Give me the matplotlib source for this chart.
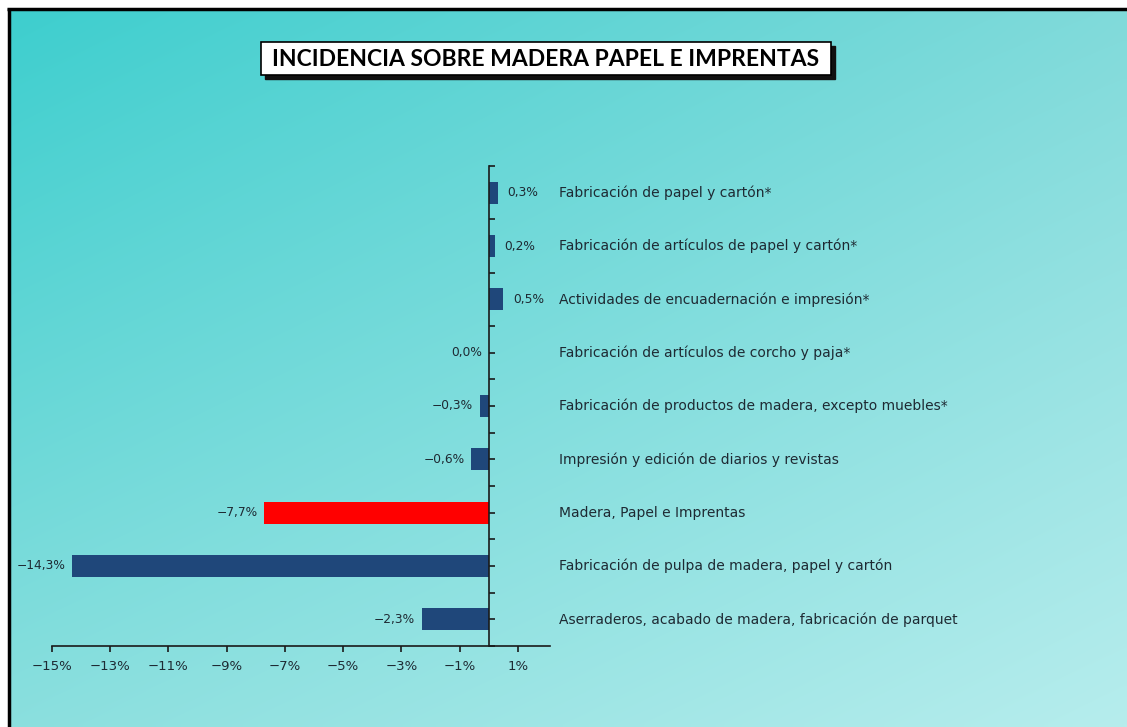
import numpy as np
import matplotlib
matplotlib.use("Agg")
import matplotlib.pyplot as plt
from matplotlib.patches import Rectangle

# data (top to bottom as in the chart)
categories = [
    "Fabricación de papel y cartón*",
    "Fabricación de artículos de papel y cartón*",
    "Actividades de encuadernación e impresión*",
    "Fabricación de artículos de corcho y paja*",
    "Fabricación de productos de madera, excepto muebles*",
    "Impresión y edición de diarios y revistas",
    "Madera, Papel e Imprentas",
    "Fabricación de pulpa de madera, papel y cartón",
    "Aserraderos, acabado de madera, fabricación de parquet",
]
values = [0.3, 0.2, 0.5, 0.0, -0.3, -0.6, -7.7, -14.3, -2.3]
highlight = "Madera, Papel e Imprentas"
xticks = [-15, -13, -11, -9, -7, -5, -3, -1, 1]
title = "INCIDENCIA SOBRE MADERA PAPEL E IMPRENTAS"

W, H = 1127, 727
fig = plt.figure(figsize=(W / 100, H / 100), dpi=100)

# gradient background
bg = fig.add_axes([0, 0, 1, 1], zorder=0)
tl = np.array([60, 206, 206]) / 255
tr = np.array([128, 218, 218]) / 255
bl = np.array([138, 223, 222]) / 255
br = np.array([182, 237, 237]) / 255
u = np.linspace(0, 1, 200)[None, :, None]
v = np.linspace(0, 1, 130)[:, None, None]
img = (1 - v) * ((1 - u) * tl + u * tr) + v * ((1 - u) * bl + u * br)
bg.imshow(img, aspect="auto", extent=[0, W, H, 0], interpolation="bilinear")
bg.set_xlim(0, W)
bg.set_ylim(H, 0)
bg.axis("off")
# white margin outside the frame + black frame lines (top and left)
bg.add_patch(Rectangle((0, 0), W, 8, color="white", zorder=2))
bg.add_patch(Rectangle((0, 0), 7, H, color="white", zorder=2))
bg.plot([7, W], [9, 9], color="black", lw=2.5, zorder=3, solid_capstyle="butt")
bg.plot([8.5, 8.5], [8, H], color="black", lw=2.5, zorder=3, solid_capstyle="butt")

# title box with shadow
bg.add_patch(Rectangle((265, 46), 570, 33, color="#111111", zorder=3))
bg.add_patch(Rectangle((261, 42), 570, 33, facecolor="white", edgecolor="black", lw=1.2, zorder=4))
bg.text(546, 59, title, ha="center", va="center", fontsize=16.5, fontweight="bold",
        family="Lato", color="black", zorder=5)

# main chart
x0, x1 = 51.7, 550
y_top, y_bot = 166, 646
ax = fig.add_axes([x0 / W, (H - y_bot) / H, (x1 - x0) / W, (y_bot - y_top) / H], zorder=1)
ax.patch.set_visible(False)

n = len(categories)
pos = np.arange(n)
colors = ["#ff0000" if c == highlight else "#1f477a" for c in categories]
ax.barh(pos, values, height=0.41, color=colors, zorder=2)
ax.set_xlim(-15, 2.1)
ax.set_ylim(n - 0.5, -0.5)

txt_color = "#1e2a33"
for p, val, cat in zip(pos, values, categories):
    s = f"{val:.1f}%".replace(".", ",").replace("-", "\u2212")
    if val > 0:
        ax.annotate(s, (val, p), xytext=(7, 0), textcoords="offset points",
                    ha="left", va="center", fontsize=8.8, color=txt_color)
    else:
        ax.annotate(s, (val, p), xytext=(-5, 0), textcoords="offset points",
                    ha="right", va="center", fontsize=8.8, color=txt_color)
    ax.text(2.42, p, cat, ha="left", va="center", fontsize=10, color=txt_color,
            clip_on=False)

for side in ("top", "right"):
    ax.spines[side].set_visible(False)
ax.spines["left"].set_position(("data", 0))
ax.spines["left"].set_color("#1a1a1a")
ax.spines["bottom"].set_color("#1a1a1a")
ax.spines["left"].set_linewidth(1.2)
ax.spines["bottom"].set_linewidth(1.2)

ax.set_xticks(xticks)
ax.set_xticklabels([f"{t}%".replace("-", "\u2212") for t in xticks], fontsize=9.5, color=txt_color)
ax.tick_params(axis="x", direction="out", length=4, width=1.2, color="#1a1a1a", pad=6)

ax.set_yticks(np.arange(-0.5, n, 0.5))
ax.set_yticklabels([])
ax.tick_params(axis="y", direction="in", length=4, width=1.2, color="#1a1a1a")

fig.savefig("out.png", dpi=100)
